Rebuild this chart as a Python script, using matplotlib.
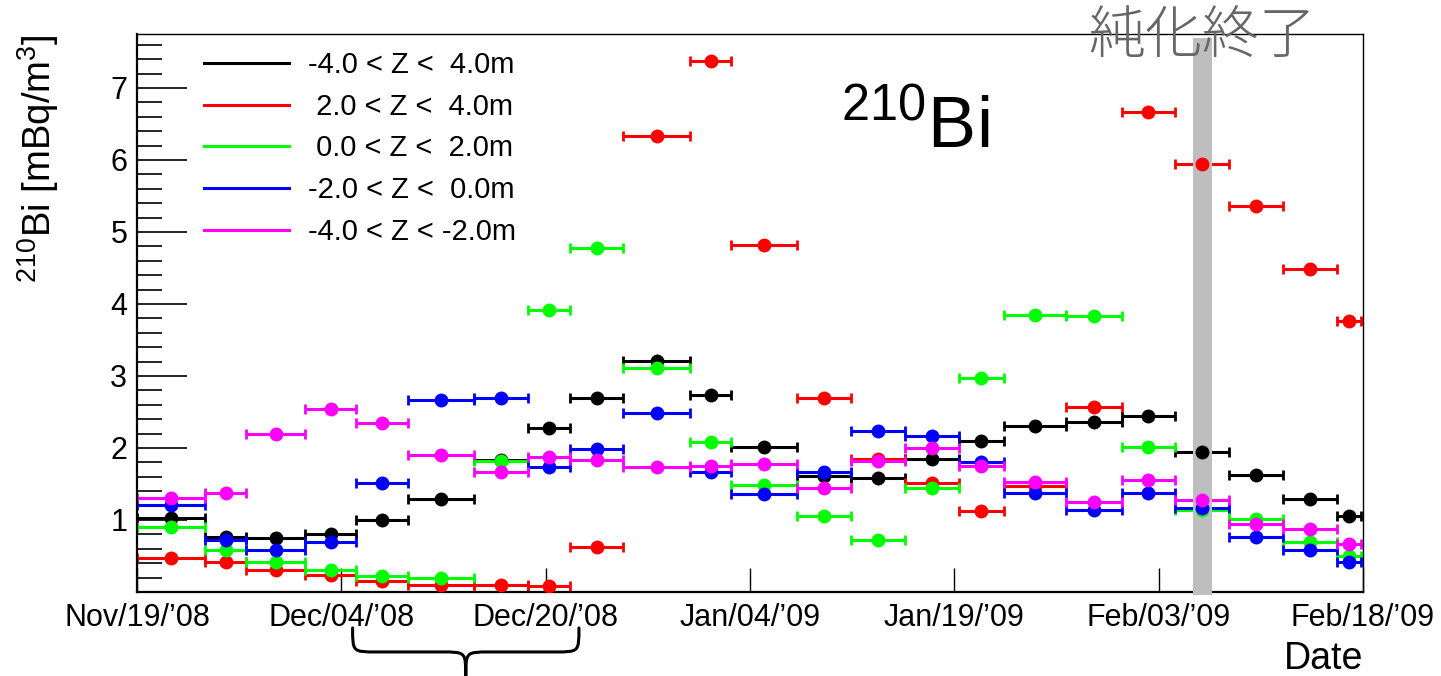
import matplotlib
matplotlib.use("Agg")
import matplotlib.pyplot as plt
import numpy as np
from matplotlib.lines import Line2D
from matplotlib.path import Path
from matplotlib.patches import PathPatch
from matplotlib.transforms import blended_transform_factory
from matplotlib.ticker import MultipleLocator, FixedLocator

plt.rcParams['font.family'] = ['Liberation Sans', 'DejaVu Sans']
plt.rcParams['mathtext.fontset'] = 'custom'
plt.rcParams['mathtext.rm'] = 'Liberation Sans'
plt.rcParams['mathtext.it'] = 'Liberation Sans:italic'
plt.rcParams['mathtext.bf'] = 'Liberation Sans:bold'

# bins : jours depuis le 19/11/2008
bin_start = [0.0, 5.05, 8.09, 12.47, 16.26, 20.12, 25.01, 29.02, 32.14, 36.07, 41.05, 44.09,
             48.99, 53.0, 57.0, 61.0, 64.35, 68.95, 73.11, 77.04, 81.05, 85.06, 89.07]
bin_end = [5.05, 8.09, 12.47, 16.26, 20.12, 25.01, 29.02, 32.14, 36.07, 41.05, 44.09, 48.99,
           53.0, 57.0, 61.0, 64.35, 68.95, 73.11, 77.04, 81.05, 85.06, 89.07, 90.85]

bi_total = [1.03, 0.76, 0.75, 0.80, 1.00, 1.29, 1.84, 2.28, 2.70, 3.21, 2.74, 2.02,
            1.61, 1.58, 1.85, 2.10, 2.30, 2.36, 2.45, 1.94, 1.63, 1.29, 1.05]
bi_z2_4 = [0.47, 0.42, 0.31, 0.24, 0.15, 0.10, 0.10, 0.08, 0.63, 6.34, 7.37, 4.82,
           2.70, 1.85, 1.51, 1.12, 1.47, 2.57, 6.66, 5.94, 5.36, 4.49, 3.77]
bi_z0_2 = [0.90, 0.58, 0.41, 0.31, 0.22, 0.19, 1.82, 3.92, 4.78, 3.11, 2.08, 1.49,
           1.06, 0.72, 1.45, 2.97, 3.85, 3.83, 2.02, 1.14, 1.01, 0.70, 0.50]
bi_zm2_0 = [1.21, 0.72, 0.58, 0.70, 1.52, 2.67, 2.69, 1.74, 1.99, 2.48, 1.66, 1.36,
            1.67, 2.24, 2.17, 1.80, 1.38, 1.14, 1.37, 1.17, 0.77, 0.58, 0.41]
bi_zm4_m2 = [1.30, 1.38, 2.19, 2.54, 2.35, 1.90, 1.67, 1.88, 1.83, 1.73, 1.75, 1.78,
             1.44, 1.82, 2.00, 1.75, 1.53, 1.25, 1.56, 1.28, 0.94, 0.88, 0.67]

series = [bi_total, bi_z2_4, bi_z0_2, bi_zm2_0, bi_zm4_m2]
labels = ["-4.0 < Z <  4.0m", " 2.0 < Z <  4.0m", " 0.0 < Z <  2.0m",
          "-2.0 < Z <  0.0m", "-4.0 < Z < -2.0m"]
couleurs = ['#000000', '#ff0000', '#00ff00', '#0000ff', '#ff00ff']

date_labels = ["Nov/19/\u201908", "Dec/04/\u201908", "Dec/20/\u201908", "Jan/04/\u201909",
               "Jan/19/\u201909", "Feb/03/\u201909", "Feb/18/\u201909"]
x_max = 91.0
fin_purification = (78.4, 79.8)   # bande grise "純化終了"
accolade = (16.0, 32.8)           # accolade sous l'axe

x_start = np.array(bin_start)
x_end = np.array(bin_end)
x_mid = (x_start + x_end) / 2
x_err = (x_end - x_start) / 2

fig = plt.figure(figsize=(14.41, 6.76), dpi=100)
ax = fig.add_axes([0.0951, 0.1243, 0.8508, 0.8254])

for valeurs, couleur in zip(series, couleurs):
    ax.errorbar(x_mid, valeurs, xerr=x_err, fmt='none', ecolor=couleur,
                elinewidth=2.2, capsize=3.5, capthick=2.0, zorder=2)

# bande grise de fin de purification
ax.axvspan(fin_purification[0], fin_purification[1], ymin=-0.006, ymax=0.993,
           color='#bebebe', lw=0, zorder=3, clip_on=False)

for valeurs, couleur in zip(series, couleurs):
    ax.plot(x_mid, valeurs, 'o', color=couleur, ms=9, mec=couleur, zorder=4)

ax.set_xlim(0, x_max)
ax.set_ylim(0, 7.75)

ax.xaxis.set_major_locator(FixedLocator(np.linspace(0, x_max, len(date_labels))))
ax.set_xticklabels(date_labels)
ax.yaxis.set_major_locator(FixedLocator([1, 2, 3, 4, 5, 6, 7]))
ax.yaxis.set_minor_locator(MultipleLocator(0.2))
ax.tick_params(axis='both', which='both', direction='in', top=False, right=False,
               labelsize=22, color='black')
ax.tick_params(axis='x', which='major', length=17, width=1.0, pad=8)
ax.tick_params(axis='x', which='minor', length=0)
ax.tick_params(axis='y', which='major', length=36, width=1.2, pad=7)
ax.tick_params(axis='y', which='minor', length=18, width=1.2)

for cote in ['left', 'bottom']:
    ax.spines[cote].set_linewidth(1.6)
for cote in ['top', 'right']:
    ax.spines[cote].set_linewidth(1.0)

ax.set_xlabel("Date", fontsize=27, loc='right')
ax.xaxis.set_label_coords(1.0, -0.088)
ax.set_ylabel(r"$^{210}$Bi [mBq/m$^{3}$]", fontsize=27.5, loc='top')
ax.yaxis.set_label_coords(-0.062, 1.0)

ax.text(0.574, 0.797, r"$^{210}$Bi", transform=ax.transAxes, fontsize=52,
        ha='left', va='baseline')

ax.text((fin_purification[0] + fin_purification[1]) / 2, 0.966, "純化終了",
        transform=blended_transform_factory(ax.transData, ax.transAxes),
        fontsize=41, color='#666666', ha='center', va='baseline', zorder=5,
        family=['Noto Sans CJK JP', 'DejaVu Sans'], fontweight='light')

poignees = [Line2D([0], [0], color=c, lw=2.2) for c in couleurs]
ax.legend(poignees, labels, loc='upper left', bbox_to_anchor=(0.038, 1.006),
          frameon=False, fontsize=21, handlelength=2.9, handletextpad=0.65,
          labelspacing=0.47, borderpad=0.2)

# accolade sous l'axe des dates
trans = blended_transform_factory(ax.transData, ax.transAxes)
x0, x1 = accolade
xc = (x0 + x1) / 2
r = 1.8
y_haut, y_mil, y_bas = -0.0645, -0.1075, -0.152
sommets = [(x0, y_haut), (x0, y_mil), (x0, y_mil), (x0 + r, y_mil),
           (xc - r, y_mil),
           (xc, y_mil), (xc, y_mil), (xc, y_bas),
           (xc, y_mil), (xc, y_mil), (xc + r, y_mil),
           (x1 - r, y_mil),
           (x1, y_mil), (x1, y_mil), (x1, y_haut)]
codes = [Path.MOVETO, Path.CURVE4, Path.CURVE4, Path.CURVE4,
         Path.LINETO,
         Path.CURVE4, Path.CURVE4, Path.CURVE4,
         Path.CURVE4, Path.CURVE4, Path.CURVE4,
         Path.LINETO,
         Path.CURVE4, Path.CURVE4, Path.CURVE4]
ax.add_patch(PathPatch(Path(sommets, codes), transform=trans, fill=False,
                       lw=2.2, color='black', clip_on=False, capstyle='round'))

fig.savefig("out.png", dpi=100)
